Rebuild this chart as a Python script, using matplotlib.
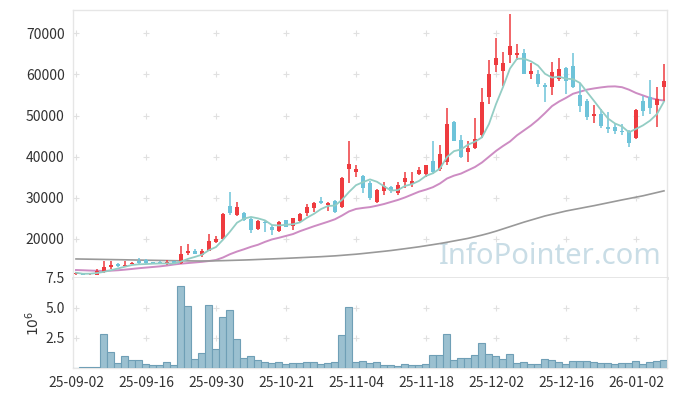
import numpy as np
import pandas as pd
import matplotlib
matplotlib.use("Agg")
import matplotlib.pyplot as plt

plt.rcParams["font.family"] = ["Noto Sans CJK KR", "DejaVu Sans"]

# daily OHLC (KRW), 25-09-02 .. 26-01-08
opens = [11400, 11700, 11400, 11300, 11900, 13150, 13900, 13450, 14000, 14650,
         14900, 14350, 14400, 13950, 14580, 14100, 16700, 17100, 16200, 17200,
         19300, 20000, 28000, 25750, 26250, 24850, 22350, 24200, 22900, 22000,
         24550, 23250, 24400, 26400, 27550, 29300, 28350, 29150, 27700, 37100,
         36350, 35300, 33550, 29100, 31650, 32700, 31250, 33800, 33450, 35800,
         35900, 38950, 36950, 38800, 48500, 44050, 41200, 42050, 45300, 54450,
         62300, 60900, 64750, 64750, 65150, 60200, 60100, 57450, 57050, 58800,
         61550, 62050, 55050, 53650, 49850, 50500, 47150, 47150, 46350, 46350,
         44500, 53650, 54600, 52600, 56850]
highs = [11900, 11800, 11650, 12600, 14650, 14580, 14100, 14700, 14350, 15350,
         15100, 14450, 14600, 14900, 14700, 18300, 18700, 17500, 17570, 21100,
         20700, 26200, 31350, 29050, 26500, 25000, 24500, 24400, 23300, 24300,
         24700, 25100, 26300, 28500, 28900, 30300, 29000, 29400, 35000, 43800,
         38000, 35500, 34000, 32200, 33780, 32900, 33800, 36300, 36200, 37450,
         38000, 43800, 42850, 51750, 48800, 45200, 43750, 49300, 56650, 63500,
         68800, 65550, 74700, 67400, 66200, 62700, 61100, 58000, 63100, 64000,
         61800, 65150, 58000, 54000, 52600, 51550, 50900, 47900, 48050, 46500,
         51600, 54850, 58700, 56900, 62450]
lows = [11300, 11250, 11350, 11250, 11700, 12780, 13200, 13200, 13900, 13950,
        13950, 13800, 13950, 13600, 13900, 14000, 16100, 16300, 15700, 17000,
        19100, 19700, 25800, 25600, 24300, 21400, 22200, 21750, 21000, 21800,
        22800, 22200, 24200, 25600, 26500, 28500, 26900, 26400, 27500, 33550,
        35150, 31100, 29500, 28800, 30700, 31250, 30700, 32300, 32700, 35550,
        35150, 35800, 36600, 38000, 43700, 39600, 38800, 41900, 44650, 52800,
        60700, 57300, 62700, 63500, 60000, 59000, 57050, 53200, 55000, 58500,
        55300, 56800, 50800, 48950, 48150, 46900, 45850, 45500, 45300, 42350,
        44300, 49850, 50400, 47150, 53650]
closes = [11800, 11300, 11600, 12200, 13200, 13750, 13450, 13750, 14250, 14050,
          14050, 13900, 14000, 14300, 14000, 16350, 17150, 16450, 17000, 19500,
          20100, 26050, 26300, 27800, 24550, 22100, 24350, 23850, 22100, 24050,
          22950, 25000, 26100, 27800, 28750, 28700, 28800, 26550, 34750, 38300,
          37000, 32500, 29900, 31850, 32900, 31700, 33150, 34850, 34100, 36750,
          37900, 36300, 40650, 48000, 43900, 40000, 42050, 44300, 53300, 60100,
          64100, 62800, 66900, 65150, 60200, 60850, 57700, 56900, 60550, 61250,
          58500, 57050, 52300, 49600, 50500, 47400, 46700, 46200, 46050, 43350,
          51450, 51050, 51900, 54150, 58500]

# volume in millions of shares
volume = [0, 0.12, 0.12, 0.12, 2.83, 1.33, 0.42, 1.0, 0.67, 0.67,
          0.33, 0.25, 0.25, 0.47, 0.25, 6.83, 5.17, 0.75, 1.25, 5.25,
          1.58, 4.25, 4.83, 2.42, 0.83, 1.0, 0.67, 0.5, 0.42, 0.5,
          0.33, 0.42, 0.42, 0.5, 0.5, 0.33, 0.42, 0.5, 2.75, 5.08,
          0.5, 0.58, 0.44, 0.5, 0.28, 0.28, 0.19, 0.33, 0.28, 0.28,
          0.36, 1.08, 1.08, 2.83, 0.67, 0.86, 0.86, 1.08, 2.08, 1.17,
          1.0, 0.75, 1.17, 0.42, 0.5, 0.33, 0.33, 0.75, 0.67, 0.5,
          0.33, 0.58, 0.58, 0.58, 0.5, 0.42, 0.42, 0.33, 0.42, 0.42,
          0.58, 0.33, 0.5, 0.58, 0.67]

# 20-day and 120-day averages as drawn (they need history before the window)
ma20 = [12460, 12400, 12330, 12270, 12230, 12300, 12400, 12550, 12720, 12900,
        13050, 13200, 13350, 13550, 13800, 14000, 14150, 14300, 14450, 14650,
        14900, 15500, 16300, 16950, 17500, 18100, 18600, 19300, 19900, 20300,
        20750, 21200, 21900, 22500, 23100, 23650, 24200, 24800, 25700, 26700,
        27300, 27550, 27750, 28100, 28500, 29000, 29500, 30100, 30800, 31500,
        32000, 32600, 33500, 34700, 35400, 35900, 36700, 37500, 38600, 40000,
        41400, 42600, 43700, 45200, 46400, 47600, 49000, 50600, 52300, 53400,
        54300, 55300, 55800, 56300, 56600, 56850, 57050, 57100, 56900, 56300,
        55500, 54900, 54300, 53900, 53650]
ma120 = [15150, 15120, 15090, 15060, 15030, 15000, 14970, 14940, 14910, 14880,
         14850, 14820, 14790, 14760, 14730, 14700, 14680, 14660, 14650, 14660,
         14700, 14740, 14790, 14840, 14890, 14950, 15020, 15090, 15160, 15230,
         15300, 15380, 15460, 15540, 15620, 15700, 15800, 15900, 16030, 16170,
         16300, 16470, 16650, 16830, 17010, 17200, 17420, 17640, 17870, 18100,
         18370, 18630, 18900, 19200, 19520, 19830, 20150, 20550, 20950, 21400,
         21900, 22450, 23000, 23550, 24100, 24600, 25100, 25600, 26000, 26400,
         26800, 27130, 27450, 27780, 28100, 28450, 28800, 29150, 29500, 29830,
         30170, 30500, 30900, 31300, 31700]

tick_labels = ["25-09-02", "25-09-16", "25-09-30", "25-10-21", "25-11-04",
               "25-11-18", "25-12-02", "25-12-16", "26-01-02"]
price_ticks = [20000, 30000, 40000, 50000, 60000, 70000]
vol_ticks = [2.5, 5.0, 7.5]

UP = "#ee3b3f"
DOWN = "#6ec3d9"

df = pd.DataFrame({"open": opens, "high": highs, "low": lows, "close": closes,
                   "volume": volume, "ma20": ma20, "ma120": ma120})
df["ma5"] = df["close"].rolling(5, min_periods=1).mean()
x = np.arange(len(df))
tick_pos = x[::10][:len(tick_labels)]
colors = np.where(df["close"] >= df["open"], UP, DOWN)

fig = plt.figure(figsize=(6.77, 3.96), dpi=100)
ax = fig.add_axes([0.1078, 0.298, 0.8774, 0.6768])
axv = fig.add_axes([0.1078, 0.0707, 0.8774, 0.2273], sharex=ax)

# candles
ax.vlines(x, df["low"], df["high"], colors=colors, linewidth=1.1, zorder=3)
body = np.maximum((df["close"] - df["open"]).abs(), 150)
ax.bar(x, body, bottom=np.minimum(df["open"], df["close"]), width=0.6,
       color=colors, zorder=4)

ax.plot(x, df["ma5"], color="#93cdc4", lw=1.3, zorder=5)
ax.plot(x, df["ma20"], color="#cd8cc3", lw=1.4, zorder=2)
ax.plot(x, df["ma120"], color="#999999", lw=1.2, zorder=2)

ax.text(0.803, 0.08, "InfoPointer.com", transform=ax.transAxes,
        ha="center", va="center", fontsize=21, color="#c9dde6",
        family=["Noto Sans", "DejaVu Sans"], zorder=1)

# volume
axv.bar(x, df["volume"], width=1.0, color="#9bc0d0", edgecolor="#6f9fb6",
        linewidth=0.8, zorder=3)

ax.set_ylim(10520, 75670)
axv.set_ylim(0, 7.5)
ax.set_xlim(-0.43, 84.43)

# grid crosses
for a, yt in ((ax, price_ticks), (axv, vol_ticks[:2])):
    gx, gy = np.meshgrid(tick_pos, yt)
    a.plot(gx.ravel(), gy.ravel(), ls="none", marker="+", ms=5, mew=0.8,
           color="#e0e0e0", zorder=0)

ax.set_yticks(price_ticks)
ax.set_yticklabels([str(v) for v in price_ticks])
axv.set_yticks(vol_ticks)
axv.set_yticklabels(["%.1f" % v for v in vol_ticks])
axv.set_xticks(tick_pos)
axv.set_xticklabels(tick_labels)
ax.tick_params(axis="x", labelbottom=False, length=0)
for a in (ax, axv):
    a.tick_params(axis="both", length=0, labelsize=10, colors="#333333", pad=6)
    for s in a.spines.values():
        s.set_color("#e6e6e6")
        s.set_linewidth(1.0)
ax.spines["bottom"].set_linewidth(2.0)
ax.spines["bottom"].set_color("#e3e3e3")
axv.spines["top"].set_visible(False)
axv.set_ylabel(r"$10^6$", fontsize=10, color="#333333", labelpad=2)

fig.savefig("out.png", dpi=100)
